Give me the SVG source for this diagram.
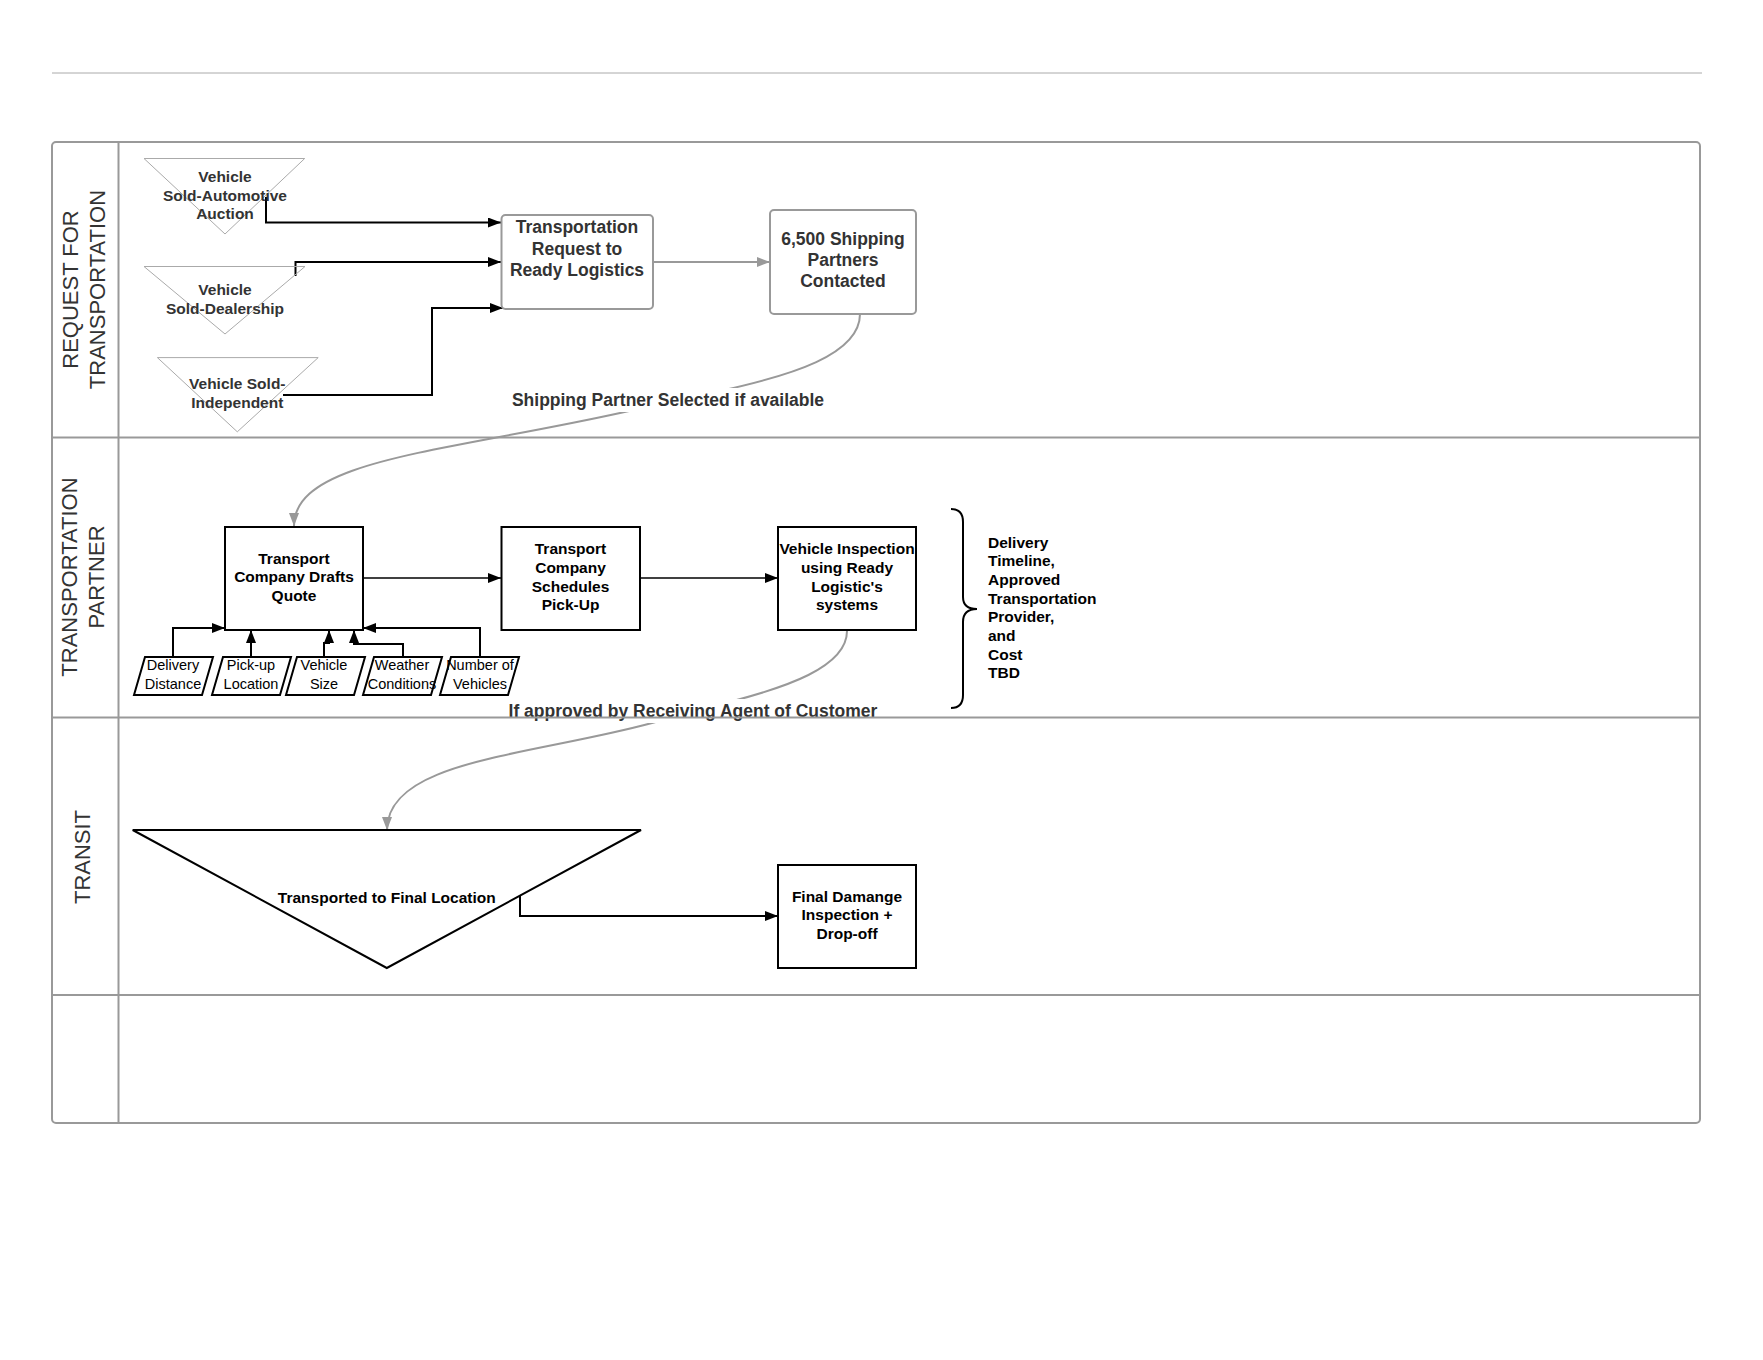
<svg xmlns="http://www.w3.org/2000/svg" width="1763" height="1360" viewBox="0 0 1763 1360">
<style>
text{font-family:"Liberation Sans",Arial,sans-serif;}
.lane{font-size:22px;fill:#333;text-anchor:middle;}
.t1{font-size:15.5px;font-weight:bold;fill:#333;text-anchor:middle;}
.t1b{font-size:17.5px;font-weight:bold;fill:#333;text-anchor:middle;}
.t2{font-size:15.5px;font-weight:bold;fill:#000;text-anchor:middle;}
.tp{font-size:14.5px;fill:#000;text-anchor:middle;}
.lbl{font-size:17.5px;font-weight:bold;fill:#333;text-anchor:middle;}
.gtri{fill:none;stroke:#aaa;stroke-width:1;}
.gbox{fill:#fff;stroke:#999;stroke-width:2;}
.bbox{fill:#fff;stroke:#000;stroke-width:2;}
.c2{fill:none;stroke:#000;stroke-width:2;}
.c1{fill:none;stroke:#000;stroke-width:1.3;}
.cg{fill:none;stroke:#999;stroke-width:2;}
.pool{fill:none;stroke:#999;stroke-width:2;}
</style>
<defs>
<marker id="ab" markerUnits="userSpaceOnUse" markerWidth="14" markerHeight="10" refX="13" refY="5" orient="auto"><path d="M0,0 L13,5 L0,10 z" fill="#000"/></marker>
<marker id="ag" markerUnits="userSpaceOnUse" markerWidth="14" markerHeight="10" refX="13" refY="5" orient="auto"><path d="M0,0 L13,5 L0,10 z" fill="#999"/></marker>
</defs>
<rect x="0" y="0" width="1763" height="1360" fill="#fff"/>
<line x1="52" y1="73" x2="1702" y2="73" stroke="#aaa" stroke-width="1"/>

<g id="connectors">
<path class="c2" d="M266,197 V222.5 H501" marker-end="url(#ab)"/>
<path class="c2" d="M295.5,276 V262 H501" marker-end="url(#ab)"/>
<path class="c2" d="M283,395 H432 V308 H503" marker-end="url(#ab)"/>
<path class="cg" d="M653,262 H770" marker-end="url(#ag)"/>
<path class="cg" d="M860,314 C860,355 790,375.6 720,391 L620,413 C440,452.6 294,460 294,526" marker-end="url(#ag)"/>
<rect x="508" y="388" width="320" height="24" fill="#fff"/>
<text class="lbl" x="668" y="406">Shipping Partner Selected if available</text>
<path class="c1" d="M363,578 H501" marker-end="url(#ab)"/>
<path class="c1" d="M640,578 H778" marker-end="url(#ab)"/>
<path class="c2" d="M173,657 V628 H225" marker-end="url(#ab)"/>
<path class="c2" d="M251,657 V630" marker-end="url(#ab)"/>
<path class="c2" d="M324,657 V643 H329 V630" marker-end="url(#ab)"/>
<path class="c2" d="M403,657 V644 H354 V630" marker-end="url(#ab)"/>
<path class="c2" d="M480,657 V628 H363" marker-end="url(#ab)"/>
<path class="cg" d="M847,631 C847,668 782,688 733,701 L652,723 C530,756 387,760 387,830" marker-end="url(#ag)"/>
<rect x="504" y="699" width="378" height="24" fill="#fff"/>
<text class="lbl" x="693" y="717">If approved by Receiving Agent of Customer</text>
<path class="c2" d="M520,896 V916 H778" marker-end="url(#ab)"/>
</g>

<g id="pool">
<rect class="pool" x="52" y="142" width="1648" height="981" rx="4"/>
<line class="pool" x1="118.5" y1="142" x2="118.5" y2="1123"/>
<line class="pool" x1="52" y1="437.5" x2="1700" y2="437.5"/>
<line class="pool" x1="52" y1="717.5" x2="1700" y2="717.5"/>
<line class="pool" x1="52" y1="995" x2="1700" y2="995"/>
<text class="lane" transform="translate(84,289.5) rotate(-90)"><tspan x="0" y="-6.5">REQUEST FOR</tspan><tspan x="0" y="20.5">TRANSPORTATION</tspan></text>
<text class="lane" transform="translate(84,577) rotate(-90)"><tspan x="0" y="-7.5">TRANSPORTATION</tspan><tspan x="0" y="19.5">PARTNER</tspan></text>
<text class="lane" transform="translate(84,857) rotate(-90)"><tspan x="0" y="6">TRANSIT</tspan></text>
</g>

<g id="n-auction">
<path class="gtri" d="M144,158.5 H304.7 L225,234 Z"/>
<text class="t1"><tspan x="225" y="181.8">Vehicle</tspan><tspan x="225" y="200.9">Sold-Automotive</tspan><tspan x="225" y="218.9">Auction</tspan></text>
</g>
<g id="n-dealership">
<path class="gtri" d="M144,266.5 H305 L225,334 Z"/>
<text class="t1"><tspan x="225" y="295.3">Vehicle</tspan><tspan x="225" y="314.3">Sold-Dealership</tspan></text>
</g>
<g id="n-independent">
<path class="gtri" d="M157.4,357.6 H318.2 L237.3,431.8 Z"/>
<text class="t1"><tspan x="237.3" y="388.7">Vehicle Sold-</tspan><tspan x="237.3" y="407.8">Independent</tspan></text>
</g>
<g id="n-request">
<rect class="gbox" x="501.5" y="215" width="151.5" height="94" rx="4"/>
<text class="t1b"><tspan x="577" y="233">Transportation</tspan><tspan x="577" y="254.5">Request to</tspan><tspan x="577" y="276">Ready Logistics</tspan></text>
</g>
<g id="n-partners">
<rect class="gbox" x="770" y="210" width="146" height="104" rx="4"/>
<text class="t1b"><tspan x="843" y="244.5">6,500 Shipping</tspan><tspan x="843" y="266">Partners</tspan><tspan x="843" y="287">Contacted</tspan></text>
</g>

<g id="n-quote">
<rect class="bbox" x="225" y="527" width="138" height="103"/>
<text class="t2"><tspan x="294" y="563.5">Transport</tspan><tspan x="294" y="582">Company Drafts</tspan><tspan x="294" y="601">Quote</tspan></text>
</g>
<g id="n-schedule">
<rect class="bbox" x="501.5" y="527" width="138.5" height="103"/>
<text class="t2"><tspan x="570.5" y="554">Transport</tspan><tspan x="570.5" y="572.5">Company</tspan><tspan x="570.5" y="591.5">Schedules</tspan><tspan x="570.5" y="610">Pick-Up</tspan></text>
</g>
<g id="n-inspection">
<rect class="bbox" x="778" y="527" width="138" height="103"/>
<text class="t2"><tspan x="847" y="554">Vehicle Inspection</tspan><tspan x="847" y="572.5">using Ready</tspan><tspan x="847" y="591.5">Logistic's</tspan><tspan x="847" y="610">systems</tspan></text>
</g>
<g id="n-brace">
<path class="c2" d="M951,509 Q963,509 963,522 L963,597 Q963,609 977,609 Q963,609 963,622 L963,695 Q963,708 951,708"/>
<text class="t2" style="text-anchor:start"><tspan x="988" y="547.5">Delivery</tspan><tspan x="988" y="566.2">Timeline,</tspan><tspan x="988" y="584.9">Approved</tspan><tspan x="988" y="603.6">Transportation</tspan><tspan x="988" y="622.3">Provider,</tspan><tspan x="988" y="641">and</tspan><tspan x="988" y="659.7">Cost</tspan><tspan x="988" y="678.4">TBD</tspan></text>
</g>
<g id="n-distance">
<path class="bbox" d="M145,657 H213 L202,695 H134 Z"/>
<text class="tp"><tspan x="173" y="669.5">Delivery</tspan><tspan x="173" y="688.5">Distance</tspan></text>
</g>
<g id="n-pickup">
<path class="bbox" d="M223,657 H291 L280,695 H212 Z"/>
<text class="tp"><tspan x="251" y="669.5">Pick-up</tspan><tspan x="251" y="688.5">Location</tspan></text>
</g>
<g id="n-size">
<path class="bbox" d="M297,657 H365 L354,695 H286 Z"/>
<text class="tp"><tspan x="324" y="669.5">Vehicle</tspan><tspan x="324" y="688.5">Size</tspan></text>
</g>
<g id="n-weather">
<path class="bbox" d="M374,657 H442 L431,695 H363 Z"/>
<text class="tp"><tspan x="402" y="669.5">Weather</tspan><tspan x="402" y="688.5">Conditions</tspan></text>
</g>
<g id="n-number">
<path class="bbox" d="M451,657 H519 L508,695 H440 Z"/>
<text class="tp"><tspan x="480" y="669.5">Number of</tspan><tspan x="480" y="688.5">Vehicles</tspan></text>
</g>

<g id="n-transported">
<path class="bbox" d="M132.7,830 H641 L386.8,968 Z"/>
<text class="t2" x="386.8" y="902.5">Transported to Final Location</text>
</g>
<g id="n-final">
<rect class="bbox" x="778" y="865" width="138" height="103"/>
<text class="t2"><tspan x="847" y="901.5">Final Damange</tspan><tspan x="847" y="920">Inspection +</tspan><tspan x="847" y="938.5">Drop-off</tspan></text>
</g>
</svg>
